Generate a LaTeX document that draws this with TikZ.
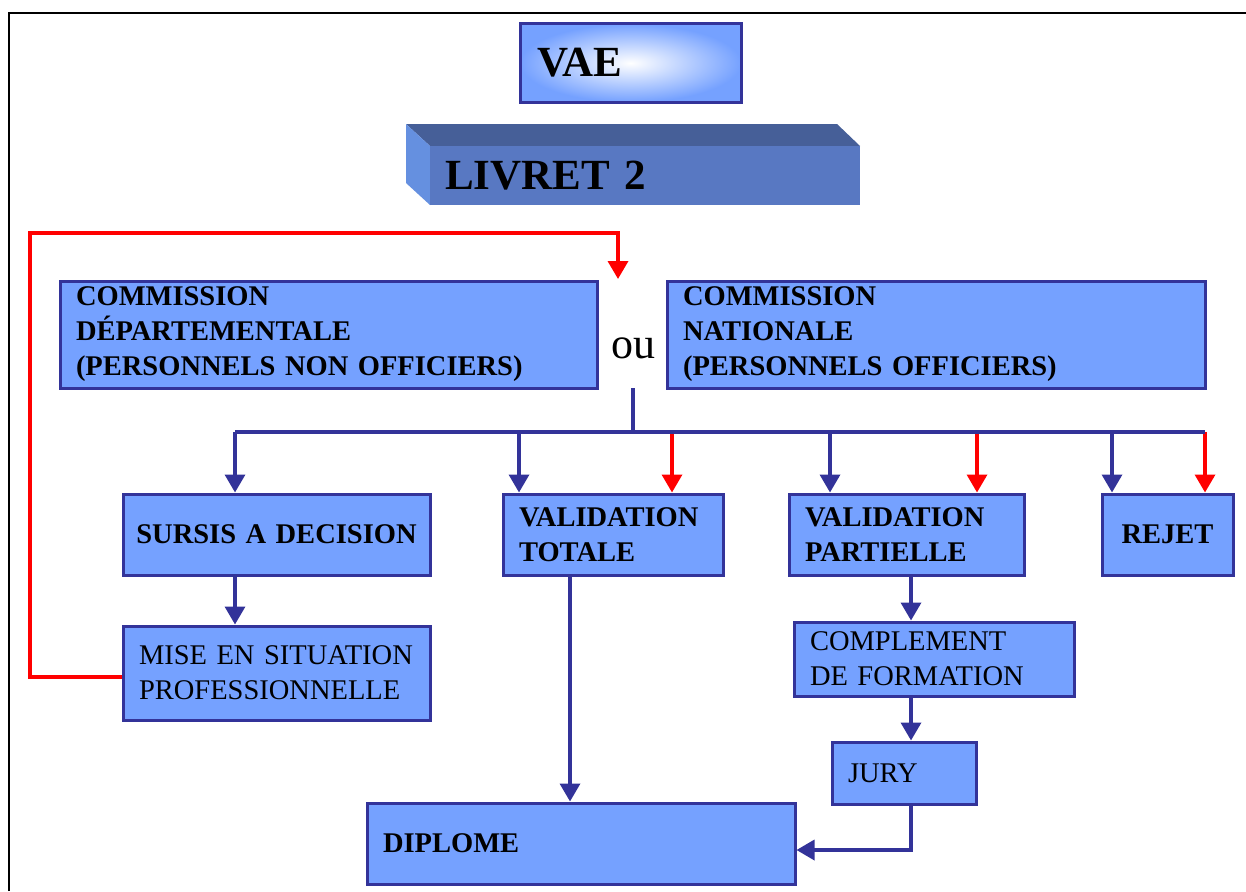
\documentclass[tikz,border=0pt]{standalone}
\usepackage{fontspec}
\setmainfont{Liberation Serif}
\usetikzlibrary{arrows.meta}
\definecolor{boxblue}{HTML}{75A1FF}
\definecolor{edgeblue}{HTML}{333399}
\definecolor{redline}{HTML}{FF0000}
\definecolor{livfront}{HTML}{5878C2}
\definecolor{livtop}{HTML}{465F98}
\definecolor{livside}{HTML}{6590E0}
\begin{document}
\begin{tikzpicture}[x=1pt,y=-1pt,
  box/.style={draw=edgeblue, line width=3pt, fill=boxblue, inner xsep=16pt, inner ysep=0pt,
    align=left, font=\fontsize{28.5}{35}\selectfont\bfseries, text=black},
  plainbox/.style={box, font=\fontsize{28.5}{35}\selectfont},
  barrow/.style={draw=edgeblue, line width=3.5pt, -{Triangle[width=20pt,length=18pt]}},
  rarrow/.style={draw=redline, line width=3.5pt, -{Triangle[width=20pt,length=18pt]}},
  bline/.style={draw=edgeblue, line width=3.5pt}]
\useasboundingbox (0,0) rectangle (1246,891);
\fill[white] (0,0) rectangle (1246,891);
% frame
\draw[line width=2pt] (9,891) -- (9,13) -- (1246,13);

% VAE
\node[box, inner color=white, outer color=boxblue, inner xsep=17pt, text width=187pt, minimum height=78pt,
  font=\fontsize{43}{50}\selectfont\bfseries] (vae) at (630.5,63) {VAE};

% LIVRET 2 (3D bar)
\fill[livtop] (406,124) -- (837,124) -- (860,146) -- (430,146) -- cycle;
\fill[livside] (406,124) -- (430,146) -- (430,205) -- (406,183) -- cycle;
\node[fill=livfront, inner xsep=15pt, inner ysep=0pt, text width=400pt, minimum height=59pt, align=left,
  font=\fontsize{43}{50}\selectfont\bfseries] (livret) at (645,175.5) {LIVRET 2};

% commissions
\node[box, text width=505pt, minimum height=107pt] (comd) at (328.5,334.5)
  {COMMISSION\\DÉPARTEMENTALE\\(PERSONNELS NON OFFICIERS)};
\node[box, text width=506pt, minimum height=107pt] (comn) at (936,334.5)
  {COMMISSION\\NATIONALE\\(PERSONNELS OFFICIERS)};
\node[font=\fontsize{44}{50}\selectfont, inner sep=0pt] (ou) at (633,348) {ou};

% decisions
\node[box, align=center, inner xsep=8pt, text width=291pt, minimum height=81pt] (sursis) at (276.5,534.5) {SURSIS A DECISION};
\node[box, text width=188pt, minimum height=81pt] (valt) at (613,534.5) {VALIDATION\\TOTALE};
\node[box, text width=203pt, minimum height=81pt] (valp) at (906.5,534.5) {VALIDATION\\PARTIELLE};
\node[box, align=center, text width=99pt, minimum height=81pt] (rejet) at (1167.5,534.5) {REJET};

\node[plainbox, text width=275pt, minimum height=94pt] (mise) at (276.5,673) {MISE EN SITUATION\\PROFESSIONNELLE};
\node[plainbox, text width=248pt, minimum height=74pt] (compl) at (934,659) {COMPLEMENT\\DE FORMATION};
\node[plainbox, text width=112pt, minimum height=62pt] (jury) at (904,773) {JURY};
\node[box, text width=396pt, minimum height=81pt] (diplome) at (581,843.5) {DIPLOME};

% coordinates
\coordinate (loopL) at (30,677);
\coordinate (loopT) at (30,233);
\coordinate (loopR) at (618,233);
\coordinate (outip) at (618,279);
\coordinate (oubot) at (633,388);
\coordinate (busmid) at (633,432);
\coordinate (busL) at (235,432);
\coordinate (t1) at (519,432);
\coordinate (r1) at (672,432);
\coordinate (p1) at (830,432);
\coordinate (r2) at (977,432);
\coordinate (j1) at (1112,432);
\coordinate (busR) at (1205,432);
\coordinate (xvt) at (570,0);
\coordinate (xvp) at (911,0);
\coordinate (jd) at (911,850);

% red connectors
\draw[rarrow] (mise.west |- loopL) -- (loopL) -- (loopT) -- (loopR) -- (outip);
\draw[rarrow] (r1) -- (r1 |- valt.north);
\draw[rarrow] (r2) -- (r2 |- valp.north);
\draw[rarrow] (busR) -- (busR |- rejet.north);

% blue connectors
\draw[bline] (oubot) -- (busmid);
\draw[bline] (busL) -- (busR);
\draw[barrow] (busL) -- (busL |- sursis.north);
\draw[barrow] (t1) -- (t1 |- valt.north);
\draw[barrow] (p1) -- (p1 |- valp.north);
\draw[barrow] (j1) -- (j1 |- rejet.north);
\draw[barrow] (sursis.south -| busL) -- (mise.north -| busL);
\draw[barrow] (valt.south -| xvt) -- (diplome.north -| xvt);
\draw[barrow] (valp.south -| xvp) -- (compl.north -| xvp);
\draw[barrow] (compl.south -| xvp) -- (jury.north -| xvp);
\draw[barrow] (jury.south -| xvp) -- (jd) -- (jd -| diplome.east);
\end{tikzpicture}
\end{document}
